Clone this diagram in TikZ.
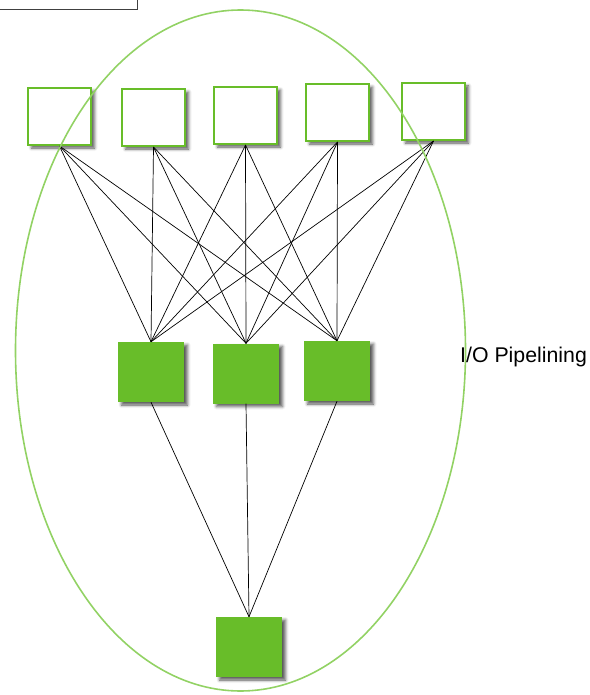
\documentclass[tikz,border=0pt]{standalone}
\usepackage{fontspec}
\setmainfont{Liberation Sans}
\usetikzlibrary{shadows.blur,shapes.geometric}
\definecolor{boxgreen}{RGB}{104,189,41}
\definecolor{ringgreen}{RGB}{146,210,100}
\begin{document}
\begin{tikzpicture}[x=1pt,y=-1pt,
  topbox/.style={draw=boxgreen,line width=2pt,fill=white,minimum width=63pt,minimum height=57pt,inner sep=0pt,
    blur shadow={shadow xshift=3.5pt,shadow yshift=-3pt,shadow blur radius=3pt,shadow opacity=65}},
  greenbox/.style={draw=none,fill=boxgreen,minimum width=66pt,minimum height=60pt,inner sep=0pt,
    blur shadow={shadow xshift=3.5pt,shadow yshift=-3pt,shadow blur radius=3pt,shadow opacity=65}},
  link/.style={black,line width=0.7pt},
  ring/.style={draw=ringgreen,line width=1.6pt}]
\useasboundingbox (0,0) rectangle (589,695);
% partial frame at top left
\draw[black!75,line width=0.8pt] (-5,-5) rectangle (137,9);
% boxes
\node[topbox] (t1) at (59.5,116.5) {};
\node[topbox] (t2) at (153.5,117.5) {};
\node[topbox] (t3) at (245.5,115.5) {};
\node[topbox] (t4) at (337.5,112.5) {};
\node[topbox] (t5) at (433.5,111.5) {};
\node[greenbox] (m1) at (151,372) {};
\node[greenbox] (m2) at (246,373.5) {};
\node[greenbox] (m3) at (337,371) {};
\node[greenbox] (b) at (249,647) {};
% connectors
\foreach \t in {t1,t2,t3,t4,t5}{
  \foreach \m in {m1,m2,m3}{
    \draw[link] (\t.south) -- (\m.north);
  }
}
\foreach \m in {m1,m2,m3}{
  \draw[link] (\m.south) -- (b.north);
}
% ring
\node[ring,ellipse,minimum width=450pt,minimum height=681pt,inner sep=0pt] (ring) at (240.5,350.5) {};
\node[anchor=base west,font=\fontsize{21.3}{25}\selectfont,inner sep=0pt] (lbl) at (460,362) {I/O Pipelining};
\end{tikzpicture}
\end{document}
